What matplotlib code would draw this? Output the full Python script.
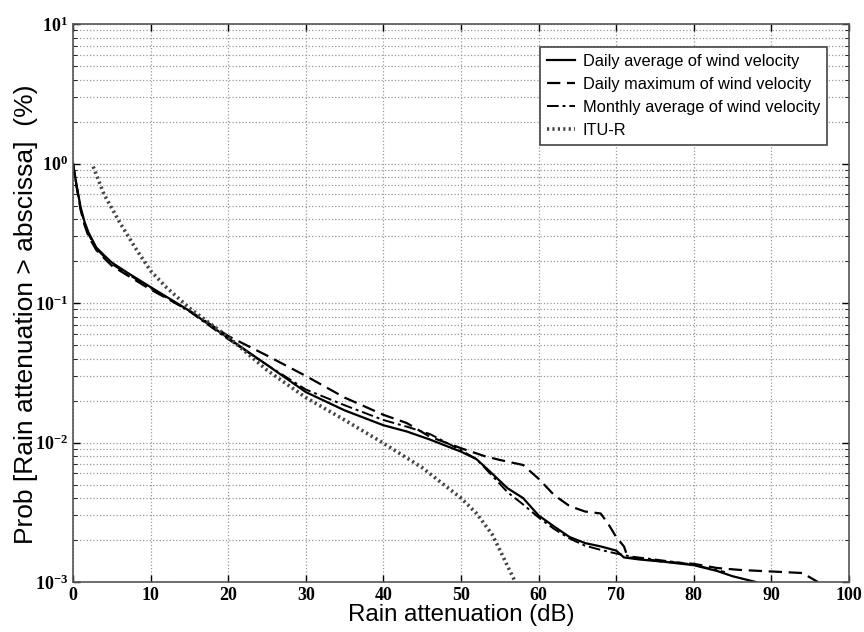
import matplotlib
matplotlib.use('Agg')
import matplotlib.pyplot as plt
import numpy as np
from matplotlib.ticker import LogLocator, NullFormatter

# Daily average of wind velocity
x_davg = [0, 0.2, 0.5, 1.0, 1.5, 2, 3, 4, 5, 7, 10, 15, 20, 25, 30, 35, 40, 43, 46, 50,
          52, 54, 56, 58, 60, 62, 64, 66, 68, 70, 71, 73, 76, 80, 83, 85, 88]
y_davg = [1.0, 0.85, 0.68, 0.48, 0.38, 0.32, 0.25, 0.22, 0.195, 0.165, 0.13, 0.088, 0.056,
          0.036, 0.023, 0.017, 0.0133, 0.012, 0.0105, 0.0086, 0.0076, 0.0060, 0.0047, 0.0040,
          0.0030, 0.0025, 0.0021, 0.0019, 0.0018, 0.00168, 0.0015, 0.00145, 0.0014, 0.00132,
          0.0012, 0.0011, 0.001]

# Daily maximum of wind velocity
x_dmax = [0, 0.2, 0.5, 1, 1.5, 2, 3, 4, 5, 7, 10, 15, 20, 25, 30, 35, 40, 43, 46, 50, 53,
          55, 58, 60, 62, 64, 66, 68, 69, 70, 71, 71.5, 73, 76, 80, 83, 86, 90, 94, 96]
y_dmax = [1.0, 0.85, 0.66, 0.46, 0.36, 0.30, 0.24, 0.21, 0.185, 0.158, 0.125, 0.088, 0.058,
          0.042, 0.030, 0.021, 0.0158, 0.0138, 0.011, 0.0091, 0.0080, 0.0075, 0.0069, 0.0055,
          0.0042, 0.0035, 0.0032, 0.0031, 0.0026, 0.0021, 0.0018, 0.0015, 0.00148, 0.0014,
          0.00135, 0.00126, 0.00122, 0.00119, 0.00116, 0.001]

# Monthly average of wind velocity
x_mavg = [0, 0.2, 0.5, 1, 1.5, 2, 3, 4, 5, 7, 10, 15, 20, 25, 30, 35, 40, 43, 46, 50, 52,
          54, 56, 58, 60, 62, 64, 66, 68, 70, 72, 75, 78, 80, 82, 84]
y_mavg = [1.0, 0.84, 0.67, 0.47, 0.37, 0.31, 0.245, 0.215, 0.19, 0.162, 0.128, 0.087, 0.055,
          0.036, 0.024, 0.0185, 0.0145, 0.013, 0.0115, 0.0088, 0.0076, 0.0058, 0.0044, 0.0036,
          0.0029, 0.0024, 0.00205, 0.00182, 0.0017, 0.0016, 0.00152, 0.00145, 0.00138,
          0.00133, 0.00125, 0.00118]

# ITU-R prediction
x_itu = [2.6, 4, 6, 8, 10, 12, 15, 20, 25, 30, 35, 40, 45, 50, 52, 54, 55, 56, 57]
y_itu = [0.95, 0.6, 0.38, 0.25, 0.17, 0.13, 0.092, 0.057, 0.033, 0.021, 0.0145, 0.0099,
         0.0066, 0.0040, 0.0031, 0.0022, 0.0017, 0.0013, 0.001]

labels = ['Daily average of wind velocity', 'Daily maximum of wind velocity',
          'Monthly average of wind velocity', 'ITU-R']

plt.rcParams['xtick.direction'] = 'in'
plt.rcParams['ytick.direction'] = 'in'

fig = plt.figure(figsize=[8.64, 6.32], dpi=100)
ax = fig.add_axes([0.0845, 0.0791, 0.8981, 0.8829])

ax.plot(x_davg, y_davg, c='k', lw=1.6, ls='-', label=labels[0])
ax.plot(x_dmax, y_dmax, c='k', lw=1.6, ls=(0, (6, 3)), label=labels[1])
ax.plot(x_mavg, y_mavg, c='k', lw=1.4, ls=(0, (6, 2, 1.5, 2)), label=labels[2])
ax.plot(x_itu, y_itu, c='#444444', lw=2.6, ls=(0, (0.6, 0.9)), label=labels[3])

ax.set_yscale('log')
ax.set_xlim(0, 100)
ax.set_ylim(1e-3, 10)
ax.set_xticks(np.arange(0, 101, 10))
ax.yaxis.set_major_locator(LogLocator(base=10, numticks=10))
ax.yaxis.set_minor_locator(LogLocator(base=10, subs=np.arange(2, 10), numticks=20))
ax.yaxis.set_minor_formatter(NullFormatter())
ax.tick_params(which='both', top=True, right=True)
ax.tick_params(which='major', length=5, width=1)
ax.tick_params(which='minor', length=3)

for lab in ax.get_xticklabels() + ax.get_yticklabels():
    lab.set_family('Liberation Serif')
    lab.set_fontsize(13)
    lab.set_weight('bold')

ax.grid(which='major', axis='both', linestyle=':', color='#999999', lw=0.9)
ax.grid(which='minor', axis='y', linestyle=':', color='#999999', lw=0.9)
for s in ax.spines.values():
    s.set_color('#555555')
    s.set_linewidth(1.2)

ax.set_xlabel('Rain attenuation (dB)', fontsize=17.3, family='Liberation Sans', labelpad=0)
ax.set_ylabel('Prob [Rain attenuation > abscissa]  (%)', fontsize=19,
              family='Liberation Sans')
ax.yaxis.set_label_coords(-0.045, 0.48)

leg = ax.legend(loc='upper right', bbox_to_anchor=(0.9716, 0.9588), borderaxespad=0,
                fancybox=False, framealpha=1, edgecolor='#444444', handlelength=1.7,
                handletextpad=0.5, prop={'family': 'Liberation Sans', 'size': 11.8},
                labelspacing=0.5)
leg.get_frame().set_linewidth(1.2)

plt.savefig('out.png', dpi=100)
